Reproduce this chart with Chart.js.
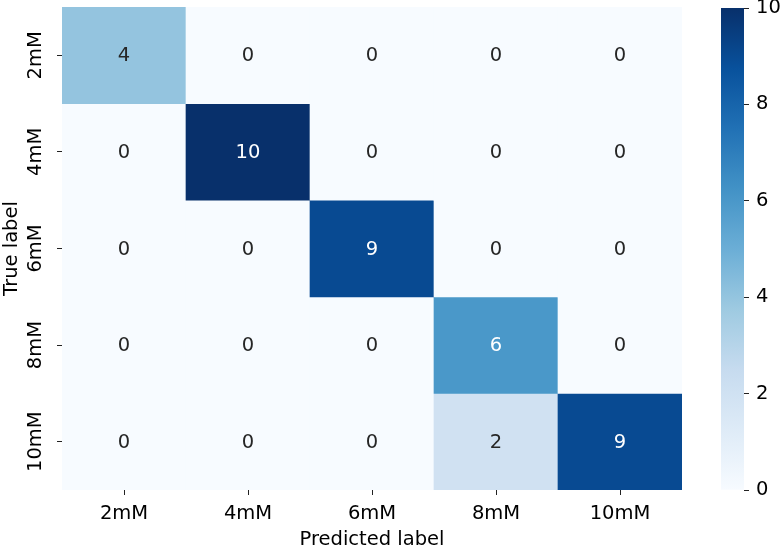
<!DOCTYPE html>
<html>
<head>
<meta charset="utf-8">
<script src="https://cdn.jsdelivr.net/npm/chart.js@4.4.1/dist/chart.umd.min.js"></script>
<style>
  html, body { margin: 0; padding: 0; background: #fff; }
  #wrap { position: relative; width: 782px; height: 549px; }
  #cm { position: absolute; left: 0; top: 0; }
  #cbar { position: absolute; left: 700px; top: 0; }
</style>
</head>
<body>
<div id="wrap">
  <canvas id="cm" width="700" height="549"></canvas>
  <canvas id="cbar" width="82" height="549"></canvas>
</div>
<script>
'use strict';

// confusion matrix, rows = true label, columns = predicted label
const classes = ['2mM', '4mM', '6mM', '8mM', '10mM'];
const row2mM  = [4, 0, 0, 0, 0];
const row4mM  = [0, 10, 0, 0, 0];
const row6mM  = [0, 0, 9, 0, 0];
const row8mM  = [0, 0, 0, 6, 0];
const row10mM = [0, 0, 0, 2, 9];
const colorbarTicks = [0, 2, 4, 6, 8, 10];

const rows = [row2mM, row4mM, row6mM, row8mM, row10mM];
const vmax = 10;

// matplotlib "Blues"
const bluesStops = ['#f7fbff', '#deebf7', '#c6dbef', '#9ecae1', '#6baed6', '#4292c6', '#2171b5', '#08519c', '#08306b'];

function hexToRgb(h) {
  return [parseInt(h.substr(1, 2), 16), parseInt(h.substr(3, 2), 16), parseInt(h.substr(5, 2), 16)];
}

function blues(t) {
  t = Math.max(0, Math.min(1, t));
  const pos = t * (bluesStops.length - 1);
  const k = Math.min(Math.floor(pos), bluesStops.length - 2);
  const f = pos - k;
  const a = hexToRgb(bluesStops[k]), b = hexToRgb(bluesStops[k + 1]);
  const c = a.map((v, i) => Math.round(v + (b[i] - v) * f));
  return 'rgb(' + c.join(',') + ')';
}

function textColor(v) {
  const rgb = blues(v / vmax).match(/\d+/g).map(Number).map(function(c) {
    c = c / 255;
    return c <= 0.03928 ? c / 12.92 : Math.pow((c + 0.055) / 1.055, 2.4);
  });
  const lum = 0.2126 * rgb[0] + 0.7152 * rgb[1] + 0.0722 * rgb[2];
  return lum > 0.408 ? '#262626' : '#ffffff';
}

const fontMain = { family: '"DejaVu Sans", sans-serif', size: 19.5 };

const annotate = {
  id: 'annotate',
  afterDatasetsDraw(chart) {
    const ctx = chart.ctx;
    ctx.save();
    ctx.font = '19.5px "DejaVu Sans", sans-serif';
    ctx.textAlign = 'center';
    ctx.textBaseline = 'middle';
    rows.forEach(function(vals, i) {
      const meta = chart.getDatasetMeta(i);
      meta.data.forEach(function(bar, j) {
        const c = bar.getCenterPoint();
        ctx.fillStyle = textColor(vals[j]);
        ctx.fillText(String(vals[j]), c.x, c.y + 1);
      });
    });
    // rotated y tick labels
    const ys = chart.scales.y;
    ctx.fillStyle = '#000';
    classes.forEach(function(name, i) {
      const y = ys.getPixelForValue(i + 0.5);
      ctx.save();
      ctx.translate(ys.right - 26, y);
      ctx.rotate(-Math.PI / 2);
      ctx.fillText(name, 0, 0);
      ctx.restore();
    });
    ctx.restore();
  }
};

const config = {
  type: 'bar',
  data: {
    labels: classes,
    datasets: rows.map(function(vals, i) {
      return {
        label: classes[i],
        data: vals.map(function() { return [i, i + 1]; }),
        backgroundColor: vals.map(function(v) { return blues(v / vmax); }),
        borderWidth: 0,
        barPercentage: 1,
        categoryPercentage: 1,
        grouped: false
      };
    })
  },
  options: {
    responsive: false,
    animation: false,
    layout: { padding: { top: 7, right: 18, left: 0, bottom: 0 } },
    plugins: {
      legend: { display: false },
      tooltip: { enabled: false }
    },
    scales: {
      x: {
        type: 'category',
        offset: true,
        grid: { drawOnChartArea: false, offset: false, tickLength: 5, tickColor: '#222', tickWidth: 1 },
        border: { display: false },
        ticks: { font: fontMain, color: '#000', padding: 7, maxRotation: 0 },
        title: { display: true, text: 'Predicted label', font: fontMain, color: '#000', padding: { top: 0, bottom: -3 } },
        afterFit(s) { s.height = 59; s.paddingLeft = 0; s.paddingRight = 0; }
      },
      y: {
        type: 'linear',
        min: 0,
        max: 5,
        reverse: true,
        afterBuildTicks(s) { s.ticks = classes.map(function(c, i) { return { value: i + 0.5 }; }); },
        ticks: { display: false },
        grid: { drawOnChartArea: false, tickLength: 5, tickColor: '#222', tickWidth: 1 },
        border: { display: false },
        title: { display: true, text: 'True label', font: fontMain, color: '#000', padding: { top: 0, bottom: 0 } },
        afterFit(s) { s.width = 62; s.paddingTop = 0; s.paddingBottom = 0; }
      }
    }
  },
  plugins: [annotate]
};

const cmChart = new Chart(document.getElementById('cm'), config);

const cbarConfig = {
  type: 'bar',
  data: {
    labels: [''],
    datasets: [{
      data: [[0, vmax]],
      backgroundColor: function(context) {
        const area = context.chart.chartArea;
        if (!area) return '#6baed6';
        const g = context.chart.ctx.createLinearGradient(0, area.bottom, 0, area.top);
        bluesStops.forEach(function(c, k) { g.addColorStop(k / (bluesStops.length - 1), c); });
        return g;
      },
      borderWidth: 0,
      barPercentage: 1,
      categoryPercentage: 1
    }]
  },
  options: {
    responsive: false,
    animation: false,
    layout: { padding: { left: 21, top: 8, bottom: 59, right: 0 } },
    plugins: {
      legend: { display: false },
      tooltip: { enabled: false }
    },
    scales: {
      x: { display: false },
      y: {
        position: 'right',
        min: 0,
        max: vmax,
        afterBuildTicks(s) { s.ticks = colorbarTicks.map(function(v) { return { value: v }; }); },
        ticks: { font: fontMain, color: '#000', padding: 7 },
        grid: { drawOnChartArea: false, tickLength: 5, tickColor: '#222', tickWidth: 1 },
        border: { display: false },
        afterFit(s) { s.width = 38; s.paddingTop = 0; s.paddingBottom = 0; }
      }
    }
  }
};

const cbarChart = new Chart(document.getElementById('cbar'), cbarConfig);
</script>
</body>
</html>
